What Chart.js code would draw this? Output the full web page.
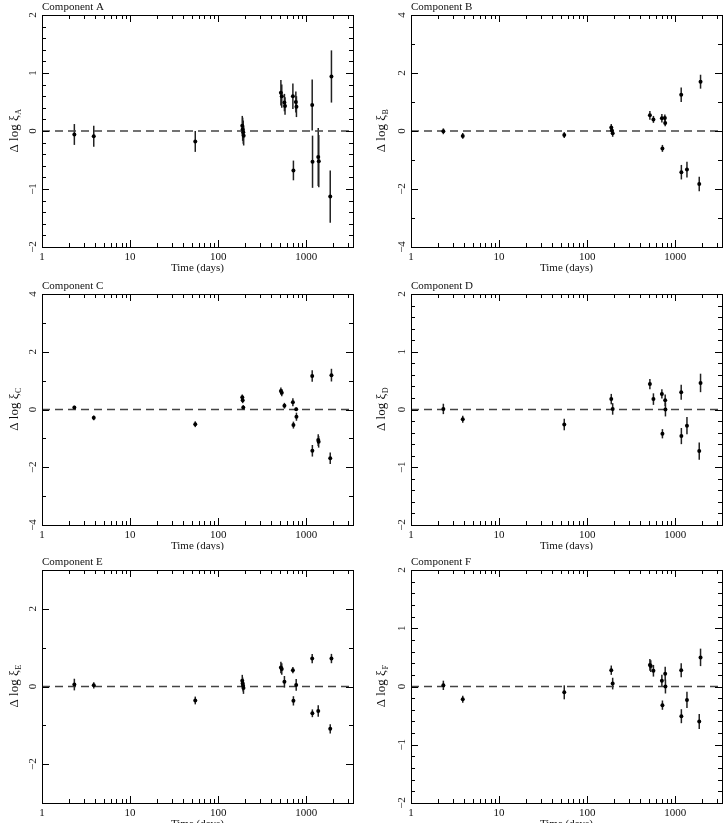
<!DOCTYPE html>
<html><head><meta charset="utf-8">
<script src="https://cdn.jsdelivr.net/npm/chart.js@4.4.0/dist/chart.umd.min.js"></script>
<style>
body{margin:0;background:#fff;width:728px;height:823px;overflow:hidden;position:relative}
canvas{position:absolute;display:block}
</style></head><body>
<canvas id="cA" width="364" height="275" style="left:0;top:0"></canvas>
<canvas id="cB" width="364" height="275" style="left:364px;top:0"></canvas>
<canvas id="cC" width="364" height="275" style="left:0;top:275px"></canvas>
<canvas id="cD" width="364" height="275" style="left:364px;top:275px"></canvas>
<canvas id="cE" width="364" height="273" style="left:0;top:550px"></canvas>
<canvas id="cF" width="364" height="273" style="left:364px;top:550px"></canvas>
<script>
// ---- data ----
const xTickLabels = ['1', '10', '100', '1000'];
const xMajor = [1, 10, 100, 1000];
const xMax = 3400;

const daysA = [2.33, 3.87, 55, 188, 190, 193, 195, 516, 528, 566, 575, 706, 716, 763, 775, 1170, 1180, 1370, 1390, 1875, 1935];
const valA  = [-0.06, -0.09, -0.18, 0.09, 0.03, -0.02, -0.08, 0.66, 0.60, 0.49, 0.43, 0.60, -0.68, 0.50, 0.42, 0.45, -0.53, -0.45, -0.52, -1.13, 0.94];
const errA  = [0.18, 0.18, 0.18, 0.17, 0.2, 0.2, 0.17, 0.22, 0.2, 0.15, 0.15, 0.22, 0.17, 0.18, 0.18, 0.44, 0.45, 0.5, 0.45, 0.45, 0.45];

const daysB = [2.33, 3.87, 55, 188, 191, 195, 516, 566, 706, 716, 763, 770, 1170, 1175, 1360, 1875, 1940];
const valB  = [-0.01, -0.17, -0.14, 0.12, 0.02, -0.08, 0.54, 0.40, 0.44, -0.60, 0.45, 0.28, 1.25, -1.42, -1.33, -1.83, 1.70];
const errB  = [0.1, 0.1, 0.1, 0.12, 0.12, 0.12, 0.15, 0.12, 0.15, 0.12, 0.12, 0.12, 0.25, 0.25, 0.27, 0.25, 0.24];

const daysC = [2.33, 3.87, 55, 188, 190, 193, 516, 528, 566, 706, 716, 770, 775, 1170, 1175, 1370, 1385, 1875, 1935];
const valC  = [0.07, -0.29, -0.51, 0.42, 0.32, 0.07, 0.64, 0.58, 0.13, 0.25, -0.54, 0.01, -0.25, 1.16, -1.43, -1.06, -1.12, -1.69, 1.19];
const errC  = [0.06, 0.08, 0.1, 0.1, 0.1, 0.08, 0.12, 0.12, 0.1, 0.14, 0.12, 0.06, 0.14, 0.2, 0.2, 0.2, 0.2, 0.2, 0.22];

const daysD = [2.33, 3.87, 55, 188, 195, 516, 566, 706, 716, 770, 775, 1170, 1175, 1360, 1875, 1940];
const valD  = [0.01, -0.17, -0.26, 0.18, 0.01, 0.44, 0.18, 0.27, -0.42, 0.16, 0.0, 0.30, -0.46, -0.28, -0.72, 0.46];
const errD  = [0.09, 0.06, 0.1, 0.09, 0.1, 0.09, 0.1, 0.08, 0.08, 0.1, 0.12, 0.13, 0.14, 0.15, 0.15, 0.16];

const daysE = [2.33, 3.87, 55, 188, 190, 192, 194, 516, 528, 566, 706, 716, 770, 1170, 1175, 1370, 1875, 1935];
const valE  = [0.05, 0.03, -0.36, 0.15, 0.08, 0.02, -0.04, 0.49, 0.45, 0.12, 0.42, -0.37, 0.04, 0.72, -0.69, -0.63, -1.09, 0.72];
const errE  = [0.15, 0.08, 0.1, 0.15, 0.15, 0.15, 0.15, 0.15, 0.15, 0.15, 0.08, 0.12, 0.15, 0.12, 0.1, 0.15, 0.12, 0.12];

const daysF = [2.33, 3.87, 55, 188, 195, 516, 528, 566, 706, 716, 770, 775, 1170, 1175, 1360, 1875, 1940];
const valF  = [0.02, -0.22, -0.10, 0.28, 0.05, 0.37, 0.35, 0.27, 0.10, -0.32, 0.22, 0.0, 0.28, -0.51, -0.23, -0.60, 0.50];
const errF  = [0.08, 0.06, 0.12, 0.08, 0.1, 0.1, 0.1, 0.1, 0.1, 0.08, 0.12, 0.12, 0.12, 0.12, 0.14, 0.13, 0.15];

const yTicksA = [-2, -1, 0, 1, 2];
const yTicksB = [-4, -2, 0, 2, 4];
const yTicksC = [-4, -2, 0, 2, 4];
const yTicksD = [-2, -1, 0, 1, 2];
const yTicksE = [-2, 0, 2];
const yTicksF = [-2, -1, 0, 1, 2];

// ---- panels ----
const panels = [
  {id:'cA', name:'Component A', sub:'A', days:daysA, vals:valA, errs:errA, ymin:-2, ymax:2, major:yTicksA, step:0.2, left:42, right:11, top:15, bottom:28, ttl:27},
  {id:'cB', name:'Component B', sub:'B', days:daysB, vals:valB, errs:errB, ymin:-4, ymax:4, major:yTicksB, step:1, left:47, right:6, top:15, bottom:28, ttl:29},
  {id:'cC', name:'Component C', sub:'C', days:daysC, vals:valC, errs:errC, ymin:-4, ymax:4, major:yTicksC, step:1, left:42, right:11, top:19, bottom:25, ttl:27},
  {id:'cD', name:'Component D', sub:'D', days:daysD, vals:valD, errs:errD, ymin:-2, ymax:2, major:yTicksD, step:0.2, left:47, right:6, top:19, bottom:25, ttl:29},
  {id:'cE', name:'Component E', sub:'E', days:daysE, vals:valE, errs:errE, ymin:-3, ymax:3, major:yTicksE, step:1, left:42, right:11, top:20, bottom:20, ttl:27},
  {id:'cF', name:'Component F', sub:'F', days:daysF, vals:valF, errs:errF, ymin:-2, ymax:2, major:yTicksF, step:0.2, left:47, right:6, top:20, bottom:20, ttl:29}
];

const FONT = '"Liberation Serif", "Times New Roman", serif';

function xTickValues() {
  const t = [];
  xMajor.forEach(d => { for (let k = 1; k <= 9; k++) { if (d * k <= xMax) t.push(d * k); } });
  return t;
}
function yTickValues(p) {
  const t = [];
  const n = Math.round((p.ymax - p.ymin) / p.step);
  for (let i = 0; i <= n; i++) t.push(+(p.ymin + i * p.step).toFixed(6));
  return t;
}
function fmt(v) { return v < 0 ? '\u2212' + Math.abs(v) : String(v); }

const errorBars = {
  id: 'errorBars',
  beforeDatasetsDraw(chart, args, opts) {
    const p = opts.panel; const xs = chart.scales.x, ys = chart.scales.y;
    const ctx = chart.ctx; ctx.save();
    ctx.strokeStyle = '#222'; ctx.lineWidth = 1.5;
    p.days.forEach((d, i) => {
      const x = xs.getPixelForValue(d);
      ctx.beginPath();
      ctx.moveTo(x, ys.getPixelForValue(p.vals[i] - p.errs[i]));
      ctx.lineTo(x, ys.getPixelForValue(p.vals[i] + p.errs[i]));
      ctx.stroke();
    });
    ctx.restore();
  }
};

const frame = {
  id: 'frame',
  afterDraw(chart, args, opts) {
    const p = opts.panel; const a = chart.chartArea; const ctx = chart.ctx;
    const xs = chart.scales.x, ys = chart.scales.y;
    ctx.save();
    ctx.strokeStyle = '#000'; ctx.lineWidth = 1;
    ctx.strokeRect(Math.round(a.left) + 0.5, Math.round(a.top) + 0.5, Math.round(a.right - a.left), Math.round(a.bottom - a.top));
    ctx.beginPath();
    xs.ticks.forEach(t => {
      const x = Math.round(xs.getPixelForValue(t.value)) + 0.5;
      const L = xMajor.includes(t.value) ? 7 : 4;
      ctx.moveTo(x, a.bottom); ctx.lineTo(x, a.bottom - L);
      ctx.moveTo(x, a.top); ctx.lineTo(x, a.top + L);
    });
    ys.ticks.forEach(t => {
      const y = Math.round(ys.getPixelForValue(t.value)) + 0.5;
      const L = p.major.includes(t.value) ? 7 : 4;
      ctx.moveTo(a.left, y); ctx.lineTo(a.left + L, y);
      ctx.moveTo(a.right, y); ctx.lineTo(a.right - L, y);
    });
    ctx.stroke();

    ctx.fillStyle = '#111';
    ctx.font = '11px ' + FONT;
    ctx.textAlign = 'center'; ctx.textBaseline = 'middle';
    xMajor.forEach((v, i) => ctx.fillText(xTickLabels[i], xs.getPixelForValue(v), a.bottom + 10));
    ctx.fillText('Time (days)', (a.left + a.right) / 2, a.bottom + 21.5);
    ctx.textAlign = 'left';
    ctx.fillText(p.name, a.left, a.top - 7.5);

    p.major.forEach(v => {
      ctx.save();
      ctx.translate(a.left - 9, ys.getPixelForValue(v));
      ctx.rotate(-Math.PI / 2);
      ctx.textAlign = 'center'; ctx.textBaseline = 'middle';
      ctx.fillText(fmt(v), 0, 0);
      ctx.restore();
    });

    // y title with subscript
    ctx.save();
    ctx.translate(a.left - p.ttl, (a.top + a.bottom) / 2);
    ctx.rotate(-Math.PI / 2);
    ctx.textBaseline = 'middle';
    ctx.font = '13px ' + FONT;
    const main = '\u0394 log \u03be';
    const w1 = ctx.measureText(main).width;
    ctx.font = '8px ' + FONT;
    const w2 = ctx.measureText(p.sub).width;
    const x0 = -(w1 + w2) / 2;
    ctx.font = '13px ' + FONT;
    ctx.textAlign = 'left';
    ctx.fillText(main, x0, 0);
    ctx.font = '8px ' + FONT;
    ctx.fillText(p.sub, x0 + w1 + 0.5, 4);
    ctx.restore();
    ctx.restore();
  }
};

panels.forEach(p => {
  new Chart(document.getElementById(p.id), {
    type: 'scatter',
    data: {
      datasets: [
        { data: p.days.map((d, i) => ({x: d, y: p.vals[i]})), pointRadius: 2, pointBackgroundColor: '#000', pointBorderWidth: 0, showLine: false },
        { type: 'line', data: [{x: 1, y: 0}, {x: xMax, y: 0}], borderColor: '#444', borderWidth: 1.4, borderDash: [8, 5], pointRadius: 0, fill: false }
      ]
    },
    options: {
      responsive: false, animation: false,
      layout: { padding: { left: 0, right: p.right, top: p.top, bottom: 0 } },
      plugins: { legend: {display: false}, tooltip: {enabled: false}, errorBars: {panel: p}, frame: {panel: p} },
      scales: {
        x: { type: 'logarithmic', min: 1, max: xMax,
             afterBuildTicks: s => { s.ticks = xTickValues().map(v => ({value: v})); },
             afterFit: s => { s.height = p.bottom; },
             ticks: {display: false}, grid: {display: false}, border: {display: false} },
        y: { type: 'linear', min: p.ymin, max: p.ymax,
             afterBuildTicks: s => { s.ticks = yTickValues(p).map(v => ({value: v})); },
             afterFit: s => { s.width = p.left; },
             ticks: {display: false}, grid: {display: false}, border: {display: false} }
      }
    },
    plugins: [errorBars, frame]
  });
});
</script>
</body></html>
